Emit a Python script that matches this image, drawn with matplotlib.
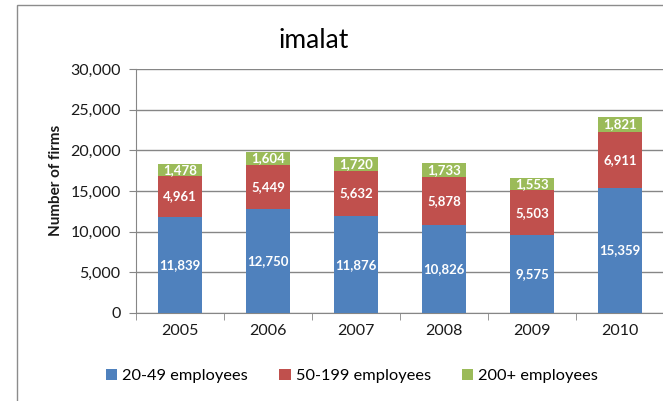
import matplotlib

matplotlib.use("Agg")
import matplotlib.pyplot as plt
from matplotlib.patches import Rectangle
from matplotlib.ticker import FuncFormatter

plt.rcParams["font.family"] = ["Lato", "DejaVu Sans"]

years = ["2005", "2006", "2007", "2008", "2009", "2010"]
small = [11839, 12750, 11876, 10826, 9575, 15359]
medium = [4961, 5449, 5632, 5878, 5503, 6911]
large = [1478, 1604, 1720, 1733, 1553, 1821]
series_names = ["20-49 employees", "50-199 employees", "200+ employees"]

BLUE = "#4f81bd"
RED = "#c0504d"
GREEN = "#9bbb59"
GRID = "#868686"
INK = "#1a1a1a"

fig = plt.figure(figsize=(6.63, 4.01), dpi=100)
fig.patch.set_facecolor("white")
# chart frame (cropped at right and bottom)
fig.patches.append(Rectangle((17 / 663, -0.1), 1.2, 1.1 - 5 / 401,
                             transform=fig.transFigure, fill=False,
                             edgecolor="#8c8c8c", linewidth=1.0))

ax = fig.add_axes([136 / 663, 1 - 313 / 401, 528 / 663, (313 - 69) / 401])

x = list(range(len(years)))
w = 0.49
bottoms2 = [a + b for a, b in zip(small, medium)]
layers = (
    (small, [0] * len(years), BLUE),
    (medium, small, RED),
    (large, bottoms2, GREEN),
)
for (vals, base, color), name in zip(layers, series_names):
    bars = ax.bar(x, vals, w, bottom=base, color=color, label=name, zorder=3)
    for rect, v, b in zip(bars, vals, base):
        ax.text(rect.get_x() + rect.get_width() / 2, b + v / 2, f"{v:,}",
                ha="center", va="center", color="white", fontsize=9.5,
                fontweight="bold", zorder=4)

ax.set_xlim(-0.5, len(years) - 0.5)
ax.set_ylim(0, 30000)
ax.set_yticks(range(0, 30001, 5000))
ax.yaxis.set_major_formatter(FuncFormatter(lambda v, _: f"{int(v):,}"))
ax.yaxis.grid(True, color=GRID, linewidth=1.0)
ax.set_axisbelow(True)

ax.set_xticks(x)
ax.set_xticklabels(years)
ax.set_xticks([i - 0.5 for i in range(len(years) + 1)], minor=True)
ax.tick_params(axis="x", which="major", length=0, pad=8, labelsize=11.5, colors=INK)
ax.tick_params(axis="x", which="minor", length=5, color=GRID)
ax.tick_params(axis="y", length=5, color=GRID, labelsize=11.5, labelcolor=INK, pad=6)

for side in ("top", "right"):
    ax.spines[side].set_visible(False)
for side in ("left", "bottom"):
    ax.spines[side].set_color(GRID)

ax.set_ylabel("Number of firms", fontsize=11, fontweight="bold", color=INK)
ax.yaxis.set_label_coords(-0.139, 0.545)

fig.text(314 / 663, 1 - 40 / 401, "imalat", ha="center", va="center",
         fontsize=19, color="black")

fig.legend(loc="center", bbox_to_anchor=(352 / 663, 1 - 376 / 401), ncol=3,
           frameon=False, fontsize=11.8, handlelength=0.7, handleheight=0.7,
           handletextpad=0.3, columnspacing=1.9)

fig.savefig("out.png", dpi=100, facecolor="white")
